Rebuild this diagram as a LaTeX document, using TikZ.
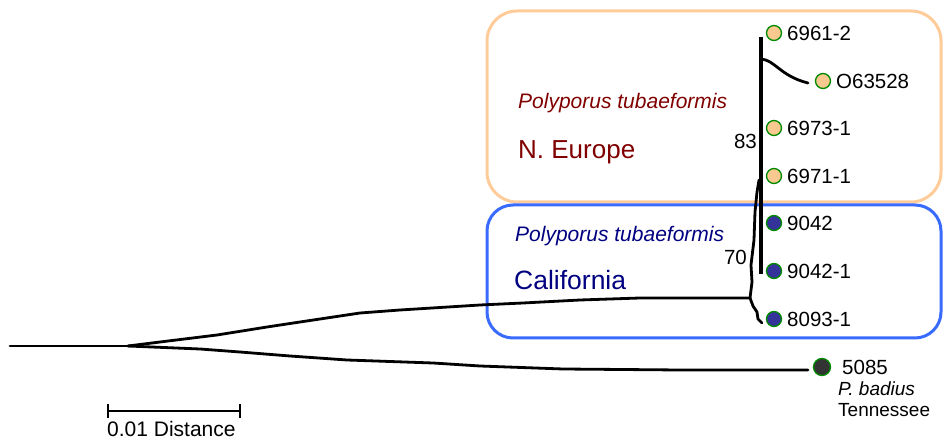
\documentclass[tikz,border=0pt]{standalone}
\usepackage{fontspec}
\setmainfont{Liberation Sans}
\usepackage{tikz}

\definecolor{peach}{HTML}{FFCC99}
\definecolor{leafpeach}{HTML}{F9C98F}
\definecolor{leafgreen}{HTML}{008A00}
\definecolor{leafnavy}{HTML}{333399}
\definecolor{leafgray}{HTML}{333333}
\definecolor{boxblue}{HTML}{3A6BFF}
\definecolor{eurored}{HTML}{800000}
\definecolor{calnavy}{HTML}{000080}

\begin{document}
\begin{tikzpicture}[x=1pt,y=-1pt,
    tip/.style={circle,draw=leafgreen,line width=1.3pt,minimum size=15pt,inner sep=0pt},
    lbl/.style={anchor=west,inner sep=0pt,font=\fontsize{20.5}{22}\selectfont},
    small/.style={anchor=west,inner sep=0pt,font=\fontsize{19}{21}\selectfont},
    branch/.style={line width=2.8pt,line join=round,line cap=round}]
    \useasboundingbox (0,0) rectangle (943,443);

    % ---- region boxes --------------------------------
    \draw[peach,line width=3pt,rounded corners=30pt] (487,11) rectangle (941,202);
    \draw[boxblue,line width=3pt,rounded corners=26pt] (487,205) rectangle (941,338);

    \node[anchor=west,inner sep=0pt,text=eurored,font=\fontsize{21}{23}\selectfont\itshape]
      (eusp) at (518,103) {Polyporus tubaeformis};
    \node[anchor=west,inner sep=0pt,text=eurored,font=\fontsize{26}{28}\selectfont]
      (eu) at (518,152) {N. Europe};
    \node[anchor=west,inner sep=0pt,text=calnavy,font=\fontsize{21}{23}\selectfont\itshape]
      (casp) at (515,236) {Polyporus tubaeformis};
    \node[anchor=west,inner sep=0pt,text=calnavy,font=\fontsize{26.5}{28}\selectfont]
      (ca) at (514,280) {California};

    % ---- leaves --------------------------------------
    \node[tip,fill=leafpeach] (t1) at (774,33) {};
    \node[tip,fill=leafpeach] (t2) at (823,81) {};
    \node[tip,fill=leafpeach] (t3) at (774,128) {};
    \node[tip,fill=leafpeach] (t4) at (774,176) {};
    \node[tip,fill=leafnavy]  (t5) at (774,223) {};
    \node[tip,fill=leafnavy]  (t6) at (774,271) {};
    \node[tip,fill=leafnavy]  (t7) at (774,319) {};
    \node[tip,fill=leafgray,minimum size=17pt] (t8) at (822,367) {};

    \node[lbl] (l1) at (787,33) {6961-2};
    \node[lbl] (l2) at (836,81) {O63528};
    \node[lbl] (l3) at (787,128) {6973-1};
    \node[lbl] (l4) at (787,176) {6971-1};
    \node[lbl] (l5) at (787,223) {9042};
    \node[lbl] (l6) at (787,271) {9042-1};
    \node[lbl] (l7) at (787,319) {8093-1};
    \node[lbl] (l8) at (842,367) {5085};
    \node[small,font=\fontsize{19}{21}\selectfont\itshape] (sp8) at (838,389) {P. badius};
    \node[small] (loc8) at (838,410) {Tennessee};

    % ---- bootstrap values ----------------------------
    \node[anchor=east,inner sep=0pt,font=\fontsize{20.5}{22}\selectfont] (b83) at (757,141) {83};
    \node[anchor=east,inner sep=0pt,font=\fontsize{20.5}{22}\selectfont] (b70) at (747,257) {70};

    % ---- tree ----------------------------------------
    \coordinate (root) at (10,346);
    \coordinate (split) at (128,346);
    \coordinate (j70) at (750,298);
    \coordinate (c83top) at (761,37);
    \coordinate (c83bot) at (761,274);
    \coordinate (c83o) at (761,59);
    \coordinate (e2) at (808,83);
    \coordinate (e7) at (762,323);
    \coordinate (e8) at (808,370);
    \coordinate (j70top) at (759,180);

    \draw[branch] (root) -- (split);
    \draw[branch] (split) -- (160,342) -- (217,335) -- (267,327) -- (300,322)
      -- (360,313) -- (400,310) -- (480,305) -- (523,303) -- (580,300)
      -- (640,298) -- (j70);
    \draw[branch] (split) -- (200,349) -- (240,352) -- (290,356) -- (347,360)
      -- (433,363) -- (480,366) -- (563,369) -- (680,370) -- (e8);
    \draw[branch] (j70) -- (752,282) -- (751,265) -- (754,240) -- (755,212)
      -- (757,192) -- (j70top);
    \draw[branch] (j70) -- (753,306) -- (757,312) -- (758,319) -- (e7);
    \draw[line width=3.8pt] (c83top) -- (c83bot);
    \draw[branch] (c83o) .. controls (775,60) and (780,76) .. (e2);

    % ---- scale bar -----------------------------------
    \coordinate (sb1) at (108,411);
    \coordinate (sb2) at (240,411);
    \draw[line width=2.4pt] (sb1) -- (sb2);
    \draw[line width=2.4pt] ([yshift=-7pt]sb1) -- ([yshift=7pt]sb1);
    \draw[line width=2.4pt] ([yshift=-7pt]sb2) -- ([yshift=7pt]sb2);
    \node[anchor=west,inner sep=0pt,font=\fontsize{21}{23}\selectfont] (sbl) at (107,429) {0.01 Distance};
\end{tikzpicture}
\end{document}
